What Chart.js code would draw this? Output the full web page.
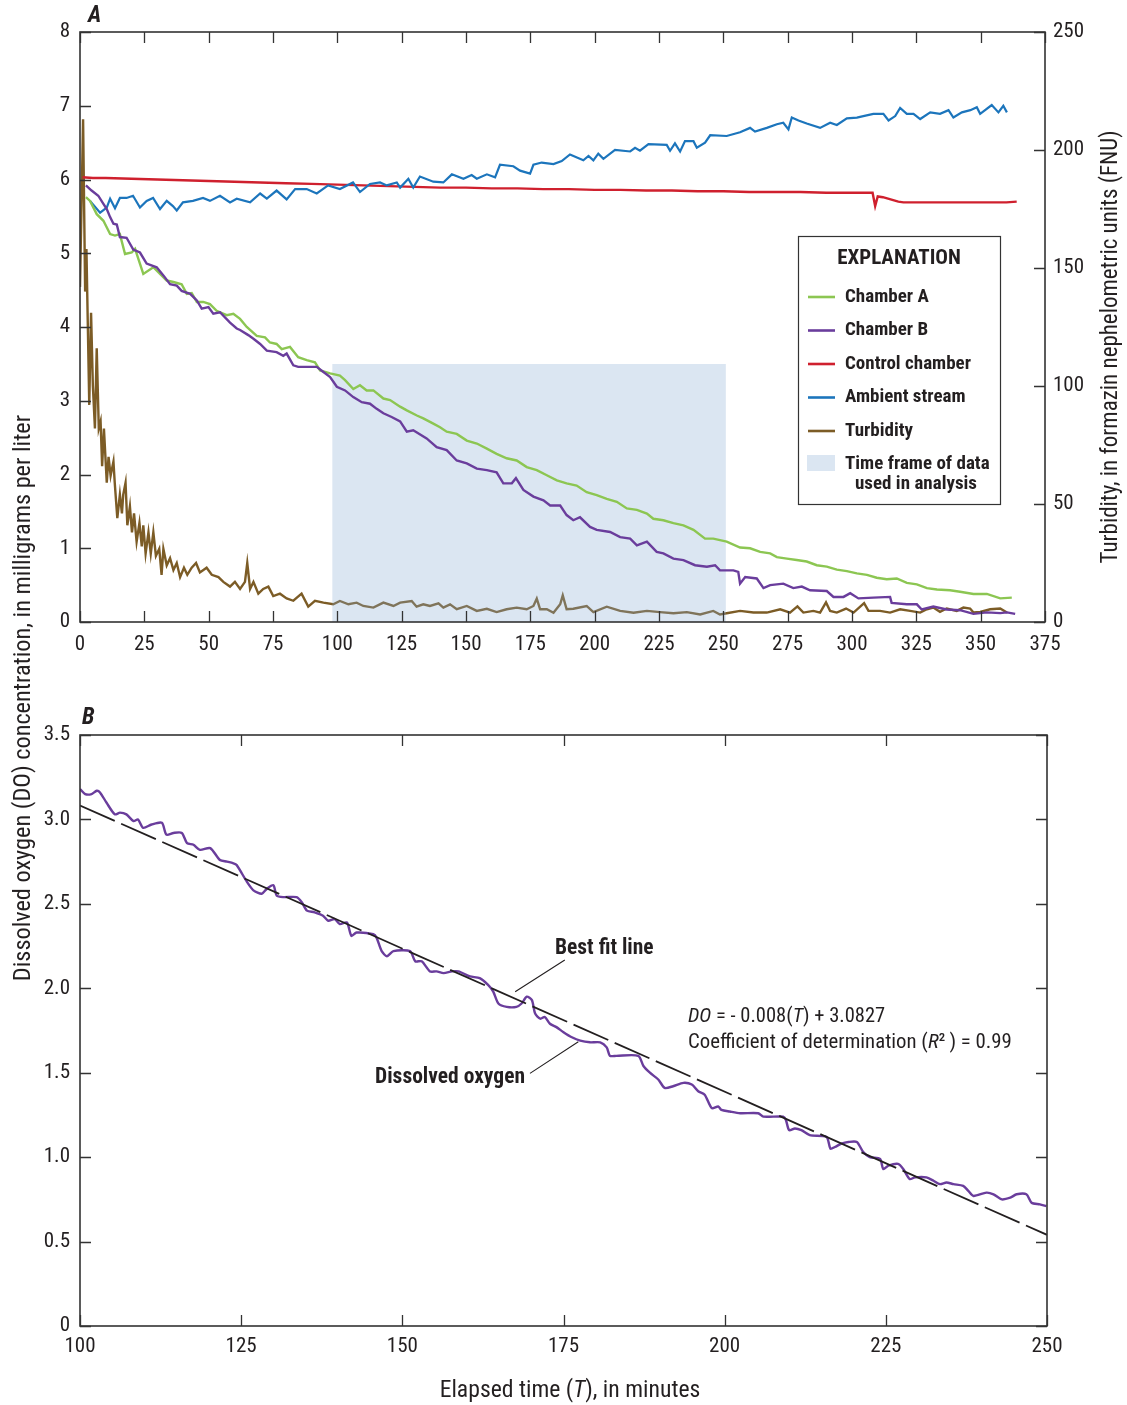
<!DOCTYPE html>
<html>
<head>
<meta charset="utf-8">
<script src="https://cdn.jsdelivr.net/npm/chart.js@4.4.1/dist/chart.umd.min.js"></script>
<style>
  body { margin: 0; background: #fff; }
  #page { position: relative; width: 1127px; height: 1405px; overflow: hidden; }
  .wrap { position: absolute; left: 0; width: 1127px; }
  .title { position: absolute; white-space: nowrap; text-align: center; color: #231f20;
           font-family: Roboto, "DejaVu Sans Condensed", sans-serif; font-stretch: condensed;
           line-height: 26px; height: 26px; }
  .rot { transform: rotate(-90deg); transform-origin: center center; }
</style>
</head>
<body>
<div id="page">
  <div class="wrap" style="top:0; height:700px;"><canvas id="chartA"></canvas></div>
  <div class="wrap" style="top:700px; height:705px;"><canvas id="chartB"></canvas></div>
  <div class="title rot" style="left:-278px; top:685px; width:600px; font-size:24.3px;">Dissolved oxygen (DO) concentration, in milligrams per liter</div>
  <div class="title rot" style="left:860px; top:334px; width:500px; font-size:23px;">Turbidity, in formazin nephelometric units (FNU)</div>
  <div class="title" style="left:320px; top:1376px; width:500px; font-size:23.7px;">Elapsed time (<i>T</i>), in minutes</div>
</div>
<script>
// Panel A: chamber A
const chamberA_t = [2.3, 3.9, 6.5, 9.1, 11.7, 13.6, 15.5, 17.5, 20.1, 21.4, 24.6, 28.5, 31.1, 33.7, 36.3, 39.5, 41.5, 43.4, 45.4, 47.9,
  50.5, 53.1, 57.0, 59.6, 62.2, 64.8, 68.7, 71.9, 73.8, 76.4, 78.4, 81.6, 84.8, 88.1, 91.3, 93.3, 97.2, 101.0, 103.0, 106.2,
  108.8, 111.4, 114.0, 117.9, 120.5, 124.4, 127.0, 130.9, 133.4, 137.3, 139.9, 142.5, 146.4, 150.3, 154.2, 158.1, 161.9, 165.8, 169.7, 173.6,
  177.5, 181.4, 185.3, 189.1, 193.0, 196.9, 200.8, 204.7, 208.6, 212.5, 216.4, 220.3, 222.8, 226.7, 230.6, 234.5, 238.4, 242.9, 246.1, 251.3,
  256.5, 260.4, 264.3, 268.2, 270.8, 274.7, 278.5, 282.4, 286.3, 290.2, 294.1, 298.0, 301.9, 305.8, 309.6, 313.5, 317.4, 321.3, 325.2, 329.1,
  333.0, 338.1, 342.0, 347.2, 352.4, 357.6, 362.1];
const chamberA_do = [5.76, 5.71, 5.53, 5.44, 5.26, 5.24, 5.26, 4.99, 5.01, 5.06, 4.72, 4.81, 4.72, 4.63, 4.61, 4.58, 4.45, 4.46, 4.34, 4.34,
  4.31, 4.22, 4.16, 4.18, 4.11, 4.00, 3.88, 3.86, 3.79, 3.77, 3.70, 3.73, 3.59, 3.55, 3.52, 3.41, 3.37, 3.34, 3.28, 3.16,
  3.21, 3.14, 3.14, 3.03, 3.01, 2.92, 2.87, 2.80, 2.76, 2.69, 2.64, 2.58, 2.55, 2.46, 2.42, 2.35, 2.28, 2.22, 2.19, 2.10,
  2.06, 1.99, 1.92, 1.88, 1.85, 1.76, 1.72, 1.67, 1.63, 1.54, 1.52, 1.47, 1.40, 1.38, 1.34, 1.31, 1.25, 1.13, 1.13, 1.09,
  1.01, 1.00, 0.95, 0.93, 0.88, 0.86, 0.84, 0.82, 0.77, 0.75, 0.71, 0.69, 0.66, 0.64, 0.60, 0.58, 0.59, 0.53, 0.51, 0.46,
  0.44, 0.43, 0.41, 0.38, 0.38, 0.32, 0.33];

// Panel A: chamber B
const chamberB_t = [2.3, 4.5, 7.1, 9.1, 10.4, 11.7, 13.0, 14.3, 15.5, 18.1, 20.7, 23.3, 25.9, 29.8, 32.4, 35.0, 37.6, 39.5, 42.8, 45.4,
  47.3, 49.9, 51.8, 54.4, 58.3, 60.9, 62.2, 65.4, 67.4, 70.0, 72.6, 76.4, 79.0, 80.3, 82.9, 84.8, 88.1, 92.0, 94.6, 97.2,
  99.8, 103.0, 106.2, 109.5, 112.7, 115.3, 117.9, 121.1, 124.4, 127.0, 129.5, 134.7, 138.6, 142.5, 146.4, 150.3, 154.2, 158.1, 161.9, 164.5,
  167.8, 169.4, 172.3, 176.2, 180.1, 182.7, 186.6, 189.1, 191.7, 194.3, 198.2, 200.8, 206.0, 209.9, 213.8, 216.4, 220.3, 224.1, 226.7, 230.6,
  234.5, 239.0, 243.6, 246.8, 248.7, 253.9, 255.8, 256.5, 258.5, 263.0, 265.6, 268.2, 273.3, 277.2, 280.5, 283.7, 290.2, 292.8, 296.7, 299.3,
  302.5, 308.3, 314.8, 315.4, 321.3, 325.2, 327.1, 331.6, 336.8, 342.0, 347.2, 352.4, 357.6, 360.2, 363.4];
const chamberB_do = [5.92, 5.85, 5.78, 5.67, 5.60, 5.49, 5.40, 5.39, 5.22, 5.21, 5.05, 5.01, 4.86, 4.81, 4.70, 4.58, 4.56, 4.49, 4.45, 4.36,
  4.25, 4.27, 4.18, 4.20, 4.06, 3.98, 3.96, 3.89, 3.84, 3.77, 3.68, 3.66, 3.61, 3.64, 3.48, 3.46, 3.46, 3.46, 3.39, 3.32,
  3.19, 3.14, 3.05, 2.98, 2.96, 2.89, 2.83, 2.78, 2.72, 2.58, 2.60, 2.49, 2.37, 2.33, 2.19, 2.15, 2.08, 2.06, 2.03, 1.88,
  1.88, 1.95, 1.79, 1.70, 1.65, 1.58, 1.58, 1.45, 1.38, 1.42, 1.29, 1.25, 1.22, 1.15, 1.13, 1.04, 1.09, 0.95, 0.93, 0.86,
  0.84, 0.77, 0.75, 0.77, 0.70, 0.70, 0.68, 0.52, 0.61, 0.59, 0.46, 0.50, 0.52, 0.46, 0.48, 0.43, 0.42, 0.34, 0.34, 0.39,
  0.32, 0.33, 0.34, 0.26, 0.24, 0.24, 0.17, 0.21, 0.17, 0.16, 0.11, 0.13, 0.12, 0.13, 0.11];

// Panel A: control chamber
const control_t = [1, 5, 10, 20, 30, 40, 50, 60, 70, 80, 90, 100, 110, 120, 130, 140, 150, 160, 170, 180,
  190, 200, 210, 220, 230, 240, 250, 260, 270, 280, 290, 300, 308, 309, 310, 312, 315, 318, 320, 330, 340, 350, 360, 364];
const control_do = [6.03, 6.02, 6.02, 6.01, 6.00, 5.99, 5.98, 5.97, 5.96, 5.95, 5.94, 5.93, 5.92, 5.91, 5.90, 5.89, 5.89, 5.88, 5.88, 5.87,
  5.87, 5.86, 5.86, 5.85, 5.85, 5.84, 5.84, 5.83, 5.83, 5.83, 5.82, 5.82, 5.82, 5.64, 5.77, 5.76, 5.73, 5.70, 5.69, 5.69, 5.69, 5.69, 5.69, 5.70];

// Panel A: ambient stream
const ambient_t = [3.9, 7.8, 10.4, 11.7, 13.6, 15.5, 18.1, 20.6, 23.3, 25.9, 28.4, 31.1, 33.7, 36.1, 37.6, 40.0, 43.9, 47.8, 50.5, 54.4,
  58.3, 60.9, 66.1, 70.0, 72.6, 76.4, 80.3, 83.6, 88.1, 92.0, 96.4, 101.0, 106.1, 108.8, 112.7, 116.6, 119.2, 123.1, 124.4, 127.6,
  129.5, 132.1, 137.3, 141.2, 144.5, 149.0, 152.2, 154.2, 158.1, 161.3, 163.2, 168.4, 171.0, 174.9, 176.2, 179.4, 184.0, 187.2, 190.4, 195.6,
  197.6, 199.5, 201.4, 203.4, 207.9, 213.8, 215.7, 217.6, 220.9, 228.0, 229.3, 231.2, 233.2, 235.1, 238.4, 239.7, 242.9, 244.9, 251.3, 256.5,
  260.4, 262.3, 266.9, 270.8, 273.3, 275.3, 276.6, 279.2, 282.4, 287.6, 291.5, 294.1, 298.0, 301.9, 304.4, 308.3, 312.2, 314.2, 316.8, 318.7,
  321.3, 323.9, 326.5, 330.4, 334.2, 337.5, 339.4, 342.7, 346.0, 348.5, 349.8, 354.3, 356.9, 358.8, 360.2];
const ambient_do = [5.71, 5.55, 5.62, 5.74, 5.61, 5.75, 5.75, 5.78, 5.62, 5.71, 5.75, 5.60, 5.71, 5.64, 5.58, 5.69, 5.71, 5.75, 5.71, 5.78,
  5.69, 5.74, 5.69, 5.81, 5.74, 5.85, 5.73, 5.87, 5.87, 5.81, 5.92, 5.87, 5.96, 5.83, 5.94, 5.96, 5.92, 5.96, 5.89, 6.01,
  5.89, 6.04, 5.97, 5.96, 6.07, 6.01, 6.06, 6.01, 6.07, 6.03, 6.20, 6.18, 6.12, 6.08, 6.20, 6.23, 6.21, 6.25, 6.34, 6.26,
  6.32, 6.26, 6.35, 6.28, 6.40, 6.38, 6.43, 6.39, 6.48, 6.47, 6.39, 6.49, 6.38, 6.52, 6.52, 6.43, 6.50, 6.60, 6.59, 6.64,
  6.70, 6.65, 6.70, 6.75, 6.77, 6.68, 6.84, 6.80, 6.76, 6.70, 6.77, 6.74, 6.83, 6.84, 6.86, 6.89, 6.89, 6.80, 6.86, 6.97,
  6.89, 6.89, 6.82, 6.91, 6.89, 6.94, 6.84, 6.91, 6.94, 6.98, 6.89, 7.01, 6.91, 7.00, 6.91];

// Panel A: turbidity (FNU, right axis)
const turbidity_t = [0, 1.2, 2.0, 2.5, 3.0, 3.6, 4.3, 5.0, 5.8, 6.5, 7.3, 8.0, 8.6, 9.3, 10.4, 11.1, 11.9, 13.0, 13.5, 14.5,
  15.5, 16.3, 16.8, 17.7, 18.4, 19.4, 20.2, 21.0, 22.0, 23.1, 24.0, 24.6, 25.5, 26.6, 27.5, 28.5, 29.5, 30.8, 31.7, 32.4,
  33.7, 35.0, 36.3, 37.6, 38.9, 40.4, 41.7, 43.4, 45.1, 46.6, 49.2, 51.2, 53.8, 55.7, 58.3, 60.2, 62.2, 64.1, 65.0, 66.1,
  67.4, 69.3, 71.2, 73.2, 75.1, 77.7, 80.3, 82.9, 86.1, 88.7, 91.3, 94.6, 98.4, 101.0, 104.3, 107.5, 110.1, 114.0, 117.9, 121.8,
  124.4, 128.9, 130.8, 133.4, 136.0, 139.3, 141.2, 143.8, 146.4, 150.3, 154.2, 158.1, 161.9, 165.8, 169.7, 173.6, 176.2, 177.5, 178.8, 181.4,
  184.0, 186.6, 187.6, 189.1, 191.7, 196.9, 199.5, 204.7, 209.9, 215.1, 220.3, 225.4, 230.6, 235.8, 241.0, 246.1, 248.7, 251.3, 256.5, 261.7,
  266.9, 272.1, 275.9, 278.8, 281.1, 285.0, 287.6, 289.9, 291.5, 294.1, 297.7, 300.6, 304.7, 306.4, 310.9, 314.8, 318.7, 322.6, 326.5, 329.1,
  331.6, 334.2, 336.8, 340.7, 343.3, 345.9, 347.2, 349.8, 353.7, 357.6, 360.2];
const turbidity_fnu = [142, 213, 140, 158, 128, 92, 131, 100, 82, 116, 82, 85, 66, 82, 59, 70, 62, 68, 59, 44,
  54, 46, 54, 59, 41, 49, 38, 46, 34, 42, 32, 41, 29, 38, 29, 38, 28, 31, 20, 31,
  24, 27, 22, 25, 19, 23, 20, 23, 25, 21, 23, 20, 19, 17, 15, 17, 14, 17, 25, 14,
  17, 12, 14, 15, 11, 12, 10, 9, 12, 6.5, 9, 8.2, 7.5, 8.9, 7.5, 8.2, 6.8, 6.1, 8.2, 6.8,
  8.2, 8.9, 6.5, 7.5, 6.8, 7.9, 6.1, 7.5, 5.4, 6.8, 4.7, 5.6, 4.2, 5.4, 6.1, 5.4, 6.8, 9.9, 5.4, 5.4,
  3.9, 7.5, 11.3, 5.4, 5.6, 6.8, 4.2, 6.5, 4.7, 3.9, 4.7, 4.2, 3.7, 4.2, 3.2, 4.7, 3.2, 3.7, 4.7, 4.0,
  4.0, 5.4, 4.0, 6.6, 4.0, 4.7, 4.0, 8.3, 4.7, 4.0, 5.7, 4.0, 8.0, 4.7, 4.7, 4.0, 5.4, 4.7, 4.0, 5.4,
  6.1, 4.3, 5.7, 4.7, 6.1, 5.7, 4.0, 4.3, 5.4, 5.7, 4.0];

// Time frame of data used in analysis
const window_t = [98, 251];
const window_top = [3.5, 3.5];

// Panel B: dissolved oxygen, chamber B, 100-250 minutes
const doB_t = [100.0, 100.8, 101.8, 102.6, 103.1, 104.1, 105.4, 106.2, 107.2, 108.3, 109.0, 109.8, 111.1, 112.7, 113.4, 114.5, 115.8, 116.6, 117.6, 118.6,
  120.2, 121.7, 122.8, 123.8, 124.3, 125.9, 126.9, 128.2, 129.0, 130.0, 130.5, 131.5, 133.6, 134.4, 135.2, 136.4, 137.7, 138.5, 139.5, 140.3,
  141.4, 142.1, 142.9, 145.5, 146.0, 146.8, 147.6, 148.6, 151.2, 152.0, 153.0, 154.3, 155.3, 156.4, 157.7, 158.7, 160.5, 162.0, 163.3, 164.1,
  164.9, 166.2, 167.7, 168.5, 169.3, 170.1, 170.6, 171.4, 172.1, 172.9, 173.9, 175.0, 176.3, 177.6, 179.1, 180.7, 181.7, 182.2, 183.2, 186.6,
  187.4, 188.4, 189.7, 190.7, 192.0, 193.6, 194.9, 195.9, 196.9, 198.0, 199.0, 199.5, 200.8, 202.4, 205.2, 206.0, 209.1, 209.5, 210.0, 210.9,
  211.9, 213.2, 215.8, 216.4, 217.1, 218.1, 219.2, 220.5, 221.5, 222.5, 224.1, 224.6, 225.4, 226.9, 227.7, 228.7, 229.5, 231.3, 232.4, 233.4,
  234.4, 235.5, 237.0, 237.8, 238.6, 240.6, 241.7, 243.0, 244.3, 245.3, 246.8, 247.6, 248.9, 249.9];
const doB_mg = [3.18, 3.15, 3.15, 3.17, 3.16, 3.10, 3.03, 3.04, 3.03, 2.99, 3.00, 2.95, 2.97, 2.98, 2.91, 2.92, 2.92, 2.86, 2.85, 2.82,
  2.83, 2.76, 2.75, 2.74, 2.73, 2.63, 2.58, 2.56, 2.59, 2.61, 2.55, 2.54, 2.54, 2.51, 2.46, 2.45, 2.43, 2.40, 2.41, 2.38,
  2.39, 2.31, 2.33, 2.32, 2.30, 2.22, 2.19, 2.22, 2.22, 2.16, 2.16, 2.10, 2.10, 2.09, 2.10, 2.10, 2.07, 2.06, 2.02, 1.98,
  1.91, 1.89, 1.89, 1.91, 1.95, 1.93, 1.85, 1.82, 1.83, 1.79, 1.77, 1.74, 1.71, 1.69, 1.68, 1.68, 1.65, 1.60, 1.60, 1.60,
  1.54, 1.50, 1.46, 1.41, 1.42, 1.44, 1.43, 1.39, 1.37, 1.29, 1.30, 1.28, 1.27, 1.26, 1.26, 1.24, 1.24, 1.22, 1.16, 1.17,
  1.16, 1.13, 1.12, 1.05, 1.06, 1.08, 1.09, 1.09, 1.03, 1.00, 0.99, 0.93, 0.95, 0.96, 0.93, 0.87, 0.88, 0.88, 0.86, 0.84,
  0.85, 0.84, 0.83, 0.80, 0.77, 0.79, 0.78, 0.75, 0.76, 0.78, 0.78, 0.73, 0.72, 0.71];

// Panel B: best fit line end points
const fit_t = [100, 250];
const fit_do = [3.0827, 0.54];

const xTicksA = [0, 25, 50, 75, 100, 125, 150, 175, 200, 225, 250, 275, 300, 325, 350, 375];
const xTicksB = [100, 125, 150, 175, 200, 225, 250];

const FAM = 'Roboto, "DejaVu Sans Condensed", sans-serif';
const TEXT = '#231f20';
const AXIS = '#333333';
const TICK = 11;

function pts(xs, ys) {
  return xs.map((x, i) => ({ x: x, y: ys[i] }));
}

function setFont(ctx, f) {
  ctx.font = f;
  if ('fontStretch' in ctx) ctx.fontStretch = 'condensed';
}

// frame and inward ticks on every side
const frameTicks = {
  id: 'frameTicks',
  afterDatasetsDraw(chart, args, opts) {
    const { ctx, chartArea: a, scales } = chart;
    ctx.save();
    ctx.strokeStyle = AXIS;
    ctx.lineWidth = 1.6;
    ctx.strokeRect(a.left, a.top, a.right - a.left, a.bottom - a.top);
    ctx.lineWidth = 1.3;
    ctx.beginPath();
    scales.x.ticks.forEach(t => {
      const px = Math.round(scales.x.getPixelForValue(t.value)) + 0.5;
      ctx.moveTo(px, a.bottom); ctx.lineTo(px, a.bottom - TICK);
      ctx.moveTo(px, a.top); ctx.lineTo(px, a.top + TICK);
    });
    scales.y.ticks.forEach(t => {
      const py = Math.round(scales.y.getPixelForValue(t.value)) + 0.5;
      ctx.moveTo(a.left, py); ctx.lineTo(a.left + TICK, py);
      if (opts.mirror) { ctx.moveTo(a.right, py); ctx.lineTo(a.right - TICK, py); }
    });
    if (scales.y2) {
      scales.y2.ticks.forEach(t => {
        const py = Math.round(scales.y2.getPixelForValue(t.value)) + 0.5;
        ctx.moveTo(a.right, py); ctx.lineTo(a.right - TICK, py);
      });
    }
    ctx.stroke();
    ctx.restore();
  }
};

const legendA = {
  id: 'legendA',
  afterDraw(chart) {
    const ctx = chart.ctx;
    ctx.save();
    ctx.fillStyle = '#fff';
    ctx.fillRect(798, 236, 202, 268);
    ctx.strokeStyle = AXIS;
    ctx.lineWidth = 1.2;
    ctx.strokeRect(798.5, 236.5, 202, 268);
    ctx.fillStyle = TEXT;
    ctx.textBaseline = 'middle';
    ctx.textAlign = 'center';
    setFont(ctx, 'bold condensed 21px ' + FAM);
    ctx.fillText('EXPLANATION', 899, 259);
    ctx.textAlign = 'left';
    setFont(ctx, 'bold condensed 19px ' + FAM);
    const items = chart.data.datasets.filter(d => d.inLegend).sort((p, q) => p.legendIndex - q.legendIndex);
    items.forEach((d, i) => {
      const y = 297 + i * 33.5;
      ctx.strokeStyle = d.borderColor;
      ctx.lineWidth = 2.6;
      ctx.beginPath(); ctx.moveTo(808, y); ctx.lineTo(835, y); ctx.stroke();
      ctx.fillStyle = TEXT;
      ctx.fillText(d.label, 845, y);
    });
    ctx.fillStyle = '#dbe6f2';
    ctx.fillRect(807, 455, 28, 16);
    ctx.fillStyle = TEXT;
    ctx.fillText('Time frame of data', 845, 464);
    ctx.fillText('used in analysis', 855, 484);
    setFont(ctx, 'italic bold condensed 23px ' + FAM);
    ctx.fillText('A', 88, 16);
    ctx.restore();
  }
};

function runs(ctx, x, y, parts, size) {
  parts.forEach(p => {
    setFont(ctx, (p[1] ? 'italic ' : '') + 'condensed ' + size + 'px ' + FAM);
    ctx.fillText(p[0], x, y);
    x += ctx.measureText(p[0]).width;
  });
}

const notesB = {
  id: 'notesB',
  afterDraw(chart) {
    const { ctx, scales } = chart;
    const X = v => scales.x.getPixelForValue(v);
    const Y = v => scales.y.getPixelForValue(v);
    ctx.save();
    ctx.strokeStyle = TEXT;
    ctx.lineWidth = 1.1;
    ctx.beginPath();
    ctx.moveTo(X(175.2), Y(2.167)); ctx.lineTo(X(167.5), Y(1.979));
    ctx.moveTo(X(169.8), Y(1.496)); ctx.lineTo(X(177.3), Y(1.683));
    ctx.stroke();
    ctx.fillStyle = TEXT;
    ctx.textBaseline = 'middle';
    setFont(ctx, 'bold condensed 21.5px ' + FAM);
    ctx.textAlign = 'left';
    ctx.fillText('Best fit line', 555, 249);
    ctx.textAlign = 'right';
    ctx.fillText('Dissolved oxygen', 525, 378);
    ctx.textAlign = 'left';
    runs(ctx, 688, 317, [['DO', true], [' = - 0.008(', false], ['T', true], [') + 3.0827', false]], 20.5);
    runs(ctx, 688, 343, [['Coefficient of determination (', false], ['R', true], ['\u00b2\u2009', false], [') = 0.99', false]], 20.8);
    setFont(ctx, 'italic bold condensed 23px ' + FAM);
    ctx.fillText('B', 82, 18);
    ctx.restore();
  }
};

// "condensed" goes into the CSS font shorthand through the weight field
const tickFont = { family: FAM, size: 21, weight: 'condensed' };

new Chart(document.getElementById('chartA'), {
  type: 'line',
  data: {
    datasets: [
      { label: 'Turbidity', data: pts(turbidity_t, turbidity_fnu), yAxisID: 'y2', borderColor: '#7c5c26', borderWidth: 2.4, order: 5, inLegend: true, legendIndex: 4 },
      { label: 'window', data: pts(window_t, window_top), yAxisID: 'y', borderWidth: 0, borderColor: 'rgba(0,0,0,0)', backgroundColor: 'rgba(135,172,212,0.30)', fill: 'origin', order: 4 },
      { label: 'Control chamber', data: pts(control_t, control_do), yAxisID: 'y', borderColor: '#cf202e', borderWidth: 2.4, order: 3, inLegend: true, legendIndex: 2 },
      { label: 'Ambient stream', data: pts(ambient_t, ambient_do), yAxisID: 'y', borderColor: '#1c75bc', borderWidth: 2.2, order: 2, inLegend: true, legendIndex: 3 },
      { label: 'Chamber A', data: pts(chamberA_t, chamberA_do), yAxisID: 'y', borderColor: '#8cc652', borderWidth: 2.4, order: 1, inLegend: true, legendIndex: 0 },
      { label: 'Chamber B', data: pts(chamberB_t, chamberB_do), yAxisID: 'y', borderColor: '#6a3d9c', borderWidth: 2.4, order: 0, inLegend: true, legendIndex: 1 }
    ]
  },
  options: {
    responsive: true,
    maintainAspectRatio: false,
    animation: false,
    parsing: false,
    elements: { point: { radius: 0 }, line: { tension: 0 } },
    layout: { padding: { top: 32, left: 0, right: 0, bottom: 0 } },
    plugins: { legend: { display: false }, tooltip: { enabled: false }, frameTicks: { mirror: false } },
    scales: {
      x: {
        type: 'linear', min: 0, max: 375, position: 'bottom',
        grid: { display: false, drawTicks: false }, border: { display: false },
        afterBuildTicks: s => { s.ticks = xTicksA.map(v => ({ value: v })); },
        ticks: { font: tickFont, color: TEXT, padding: 10, maxRotation: 0, autoSkip: false },
        afterFit: s => { s.height = 78; }
      },
      y: {
        min: 0, max: 8, position: 'left',
        grid: { display: false, drawTicks: false }, border: { display: false },
        ticks: { stepSize: 1, font: tickFont, color: TEXT, padding: 10 },
        afterFit: s => { s.width = 80; }
      },
      y2: {
        min: 0, max: 250, position: 'right',
        grid: { display: false, drawTicks: false }, border: { display: false },
        ticks: { stepSize: 50, font: tickFont, color: TEXT, padding: 8 },
        afterFit: s => { s.width = 82; }
      }
    }
  },
  plugins: [frameTicks, legendA]
});

new Chart(document.getElementById('chartB'), {
  type: 'line',
  data: {
    datasets: [
      { label: 'Dissolved oxygen', data: pts(doB_t, doB_mg), borderColor: '#6a3d9c', borderWidth: 2.4, tension: 0.25, order: 1 },
      { label: 'Best fit line', data: pts(fit_t, fit_do), borderColor: '#231f20', borderWidth: 1.8, borderDash: [38, 7], order: 0 }
    ]
  },
  options: {
    responsive: true,
    maintainAspectRatio: false,
    animation: false,
    parsing: false,
    elements: { point: { radius: 0 } },
    layout: { padding: { top: 35, left: 0, right: 80, bottom: 0 } },
    plugins: { legend: { display: false }, tooltip: { enabled: false }, frameTicks: { mirror: true } },
    scales: {
      x: {
        type: 'linear', min: 100, max: 250,
        grid: { display: false, drawTicks: false }, border: { display: false },
        afterBuildTicks: s => { s.ticks = xTicksB.map(v => ({ value: v })); },
        ticks: { font: tickFont, color: TEXT, padding: 8, maxRotation: 0, autoSkip: false },
        afterFit: s => { s.height = 79; }
      },
      y: {
        min: 0, max: 3.5,
        grid: { display: false, drawTicks: false }, border: { display: false },
        ticks: { stepSize: 0.5, font: tickFont, color: TEXT, padding: 10,
                 callback: v => v === 0 ? '0' : v.toFixed(1) },
        afterFit: s => { s.width = 80; }
      }
    }
  },
  plugins: [frameTicks, notesB]
});
</script>
</body>
</html>
